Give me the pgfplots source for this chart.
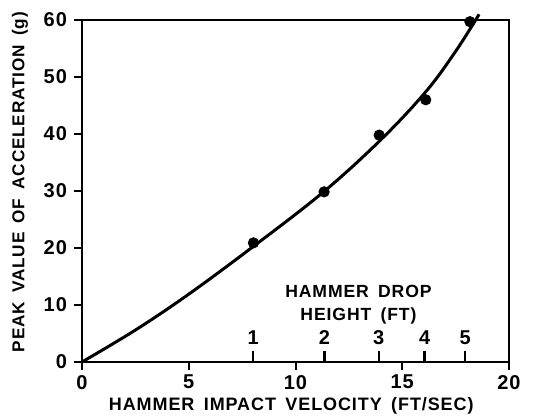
\documentclass[border=0pt]{standalone}
\usepackage{pgfplots}
\pgfplotsset{compat=1.18}
\usepackage{fontspec}
\setmainfont{Liberation Sans}
\newfontfamily\spacedfont[LetterSpace=5, WordSpace=1.6]{Liberation Sans}
\begin{document}
\begin{tikzpicture}
\begin{axis}[
  name=ax,
  scale only axis,
  width=213.5pt, height=171pt,
  xmin=0, xmax=20, ymin=0, ymax=60,
  xtick={0,5,10,15,20}, ytick={0,10,20,30,40,50,60},
  axis line style={line width=1pt},
  tick style={line width=1pt, black},
  tick align=outside,
  major tick length=4pt,
  xtick pos=bottom, ytick pos=left,
  clip=false,
  /pgf/number format/assume math mode=true,
  ticklabel style={font=\spacedfont\fontsize{10}{12}\selectfont\bfseries},
  xticklabel style={yshift=1pt},
  xlabel={HAMMER IMPACT VELOCITY (FT/SEC)},
  ylabel={PEAK VALUE OF ACCELERATION (g)},
  xlabel style={at={(axis description cs:0.49,-0.127)}, anchor=center, font=\spacedfont\fontsize{9}{12}\selectfont\bfseries},
  ylabel style={at={(axis description cs:-0.145,0.526)}, anchor=center, font=\spacedfont\fontsize{8.6}{11}\selectfont\bfseries},
]
\addplot[black, line width=1.5pt, smooth, tension=0.6] coordinates {
(0,0) (2.5,5.6) (5,11.9) (8,20.2) (11.3,29.8) (14,39) (16.1,47.4) (17.5,54.5) (18.6,61)};
\addplot[only marks, mark=*, mark size=2.6pt, black] coordinates {
(8.03,20.9) (11.34,29.85) (13.92,39.8) (16.1,46.0) (18.17,59.7)};
% hammer drop height scale ticks
\addplot[black, line width=1.2pt] coordinates {(8.02,0) (8.02,2)};
\addplot[black, line width=1.2pt] coordinates {(11.35,0) (11.35,2)};
\addplot[black, line width=1.2pt] coordinates {(13.9,0) (13.9,2)};
\addplot[black, line width=1.2pt] coordinates {(16.05,0) (16.05,2)};
\addplot[black, line width=1.2pt] coordinates {(17.95,0) (17.95,2)};
\begin{scope}[font=\spacedfont\fontsize{10}{12}\selectfont\bfseries]
\node at (axis cs:8.02,4.3) {1};
\node at (axis cs:11.35,4.3) {2};
\node at (axis cs:13.9,4.3) {3};
\node at (axis cs:16.05,4.3) {4};
\node at (axis cs:17.95,4.3) {5};
\end{scope}
\node[font=\spacedfont\fontsize{8.8}{11.5}\selectfont\bfseries, align=center] at (axis cs:12.95,10.1) {HAMMER DROP\\HEIGHT (FT)};
\end{axis}
\pgfresetboundingbox
\path ([shift={(-41pt,-28pt)}]ax.south west) rectangle ([shift={(13pt,10pt)}]ax.north east);
\end{tikzpicture}
\end{document}
